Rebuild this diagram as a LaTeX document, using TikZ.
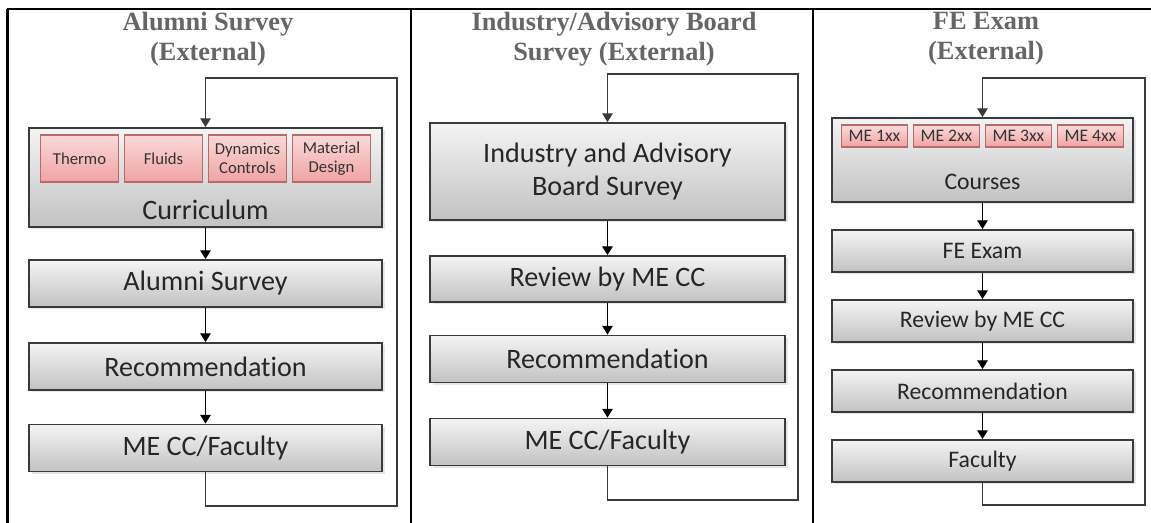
\documentclass[tikz,border=0pt]{standalone}
\usepackage{fontspec}
\setmainfont{Liberation Serif}
\newfontfamily\boxfont{Carlito}[Ligatures=NoCommon]
\usepackage{tikz}
\usetikzlibrary{arrows.meta,shadows}

\definecolor{titlegray}{HTML}{666666}
\definecolor{boxedge}{HTML}{3A3A3A}
\definecolor{boxtop}{HTML}{F4F4F4}
\definecolor{boxbot}{HTML}{C2C2C2}
\definecolor{pinktop}{HTML}{FBD9D9}
\definecolor{pinkbot}{HTML}{F0A3A3}
\definecolor{pinkedge}{HTML}{B86A6A}

\tikzset{
  stagebox/.style={draw=boxedge, line width=1pt, top color=boxtop, bottom color=boxbot,
    drop shadow={opacity=0.2, shadow xshift=0.05cm, shadow yshift=-0.05cm},
    minimum width=#1, minimum height=0.94cm, inner sep=0pt, align=center,
    font=\boxfont\fontsize{16}{19}\selectfont, text=black!85},
  boxlabel/.style={font=\boxfont\fontsize{16}{19}\selectfont, text=black!85},
  subbox/.style={draw=pinkedge, line width=0.6pt, top color=pinktop, bottom color=pinkbot,
    minimum width=1.56cm, minimum height=0.94cm, inner sep=0pt, align=center,
    font=\boxfont\fontsize{9.5}{11}\selectfont, text=black!80},
  headtext/.style={font=\bfseries\fontsize{15}{17}\selectfont, text=titlegray, align=center},
  flow/.style={-{Triangle[width=6pt,length=5pt]}, line width=0.7pt},
  loopline/.style={draw=boxedge, line width=0.9pt},
  rule/.style={line width=1.2pt}
}

\begin{document}
\begin{tikzpicture}
    \useasboundingbox (0,0) rectangle (23.02,-10.46);
    % table lines
    \draw[rule] (0.14,-0.18) -- (23.02,-0.18);
    \foreach \x in {0.15,8.22,16.26}
        \draw[rule] (\x,-0.18) -- (\x,-10.46);

    % Alumni survey
    \node[headtext] (head1) at (4.16,-0.78) {Alumni Survey\\(External)};
    \node[stagebox=7.06cm, minimum height=1.98cm] (cur) at (4.11,-3.55) {};
    \node[subbox] (thermo) at (1.59,-3.17) {Thermo};
    \node[subbox] (fluids) at (3.27,-3.17) {Fluids};
    \node[subbox] (dyn) at (4.95,-3.17) {Dynamics\\Controls};
    \node[subbox] (mat) at (6.63,-3.17) {Material\\Design};
    \node[boxlabel] (curtxt) at (4.11,-4.2) {Curriculum};
    \node[stagebox=7.06cm] (alum) at (4.11,-5.67) {Alumni Survey};
    \node[stagebox=7.06cm] (rec1) at (4.11,-7.33) {Recommendation};
    \node[stagebox=7.06cm] (fac1) at (4.11,-8.96) {ME CC/Faculty};
    \draw[flow] (cur.south) -- (alum.north);
    \draw[flow] (alum.south) -- (rec1.north);
    \draw[flow] (rec1.south) -- (fac1.north);
    \coordinate (bot1) at (7.94,-10.12);
    \coordinate (top1) at (7.94,-1.56);
    \draw[loopline, flow] (fac1.south) |- (bot1) -- (top1) -| (cur.north);

    % Industry/advisory board survey
    \node[headtext] (head2) at (12.28,-0.78) {Industry/Advisory Board\\Survey (External)};
    \node[stagebox=7.1cm, minimum height=1.94cm] (board) at (12.15,-3.43) {Industry and Advisory\\Board Survey};
    \node[stagebox=7.1cm, minimum height=0.92cm] (rev2) at (12.15,-5.58) {Review by ME CC};
    \node[stagebox=7.1cm] (rec2) at (12.15,-7.18) {Recommendation};
    \node[stagebox=7.1cm] (fac2) at (12.15,-8.84) {ME CC/Faculty};
    \draw[flow] (board.south) -- (rev2.north);
    \draw[flow] (rev2.south) -- (rec2.north);
    \draw[flow] (rec2.south) -- (fac2.north);
    \coordinate (bot2) at (15.96,-10.0);
    \coordinate (top2) at (15.96,-1.48);
    \draw[loopline, flow] (fac2.south) |- (bot2) -- (top2) -| (board.north);

    % FE exam
    \node[headtext] (head3) at (19.72,-0.78) {FE Exam\\(External)};
    \node[stagebox=6.02cm, minimum height=1.68cm] (courses) at (19.65,-3.2) {};
    \foreach \n/\x in {1/17.49,2/18.93,3/20.37,4/21.81}
        \node[subbox, minimum width=1.32cm, minimum height=0.44cm, font=\boxfont\fontsize{10}{12}\selectfont]
            (me\n) at (\x,-2.72) {ME \n xx};
    \node[boxlabel, font=\boxfont\fontsize{13.5}{16}\selectfont] (coutxt) at (19.65,-3.64) {Courses};
    \node[stagebox=6.02cm, minimum height=0.84cm, font=\boxfont\fontsize{13.5}{16}\selectfont] (fe) at (19.65,-5.02) {FE Exam};
    \node[stagebox=6.02cm, minimum height=0.84cm, font=\boxfont\fontsize{13.5}{16}\selectfont] (rev3) at (19.65,-6.42) {Review by ME CC};
    \node[stagebox=6.02cm, minimum height=0.84cm, font=\boxfont\fontsize{13.5}{16}\selectfont] (rec3) at (19.65,-7.82) {Recommendation};
    \node[stagebox=6.02cm, minimum height=0.84cm, font=\boxfont\fontsize{13.5}{16}\selectfont] (fac3) at (19.65,-9.22) {Faculty};
    \draw[flow] (courses.south) -- (fe.north);
    \draw[flow] (fe.south) -- (rev3.north);
    \draw[flow] (rev3.south) -- (rec3.north);
    \draw[flow] (rec3.south) -- (fac3.north);
    \coordinate (bot3) at (22.9,-10.1);
    \coordinate (top3) at (22.9,-1.56);
    \draw[loopline, flow] (fac3.south) |- (bot3) -- (top3) -| (courses.north);
\end{tikzpicture}
\end{document}
